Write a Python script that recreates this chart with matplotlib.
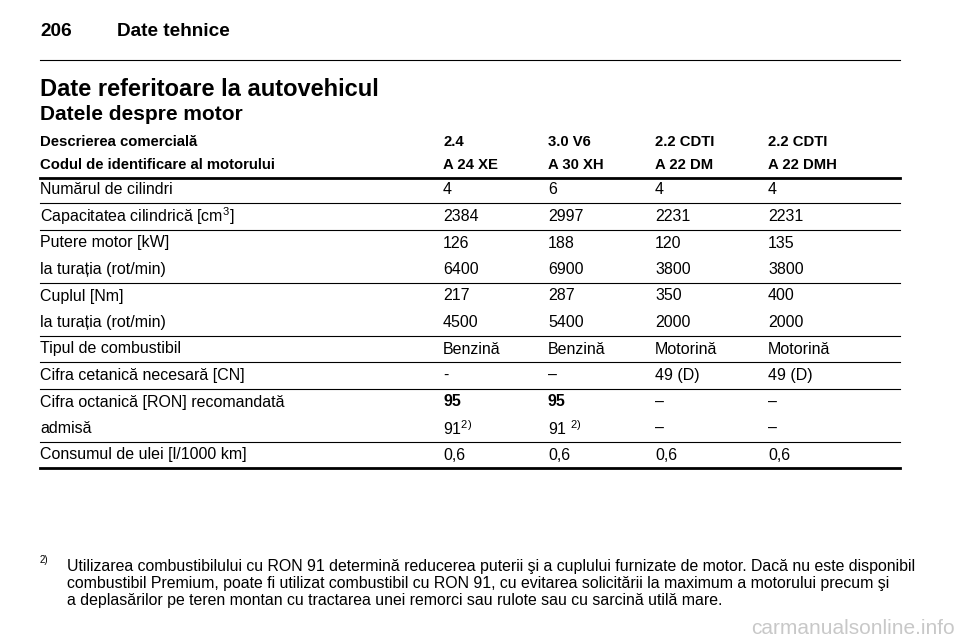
import matplotlib.pyplot as plt
from matplotlib.lines import Line2D

plt.rcParams['font.family'] = ['Liberation Sans', 'DejaVu Sans']
plt.rcParams['mathtext.fontset'] = 'custom'
plt.rcParams['mathtext.rm'] = 'Liberation Sans'
plt.rcParams['mathtext.it'] = 'Liberation Sans'

page_number = "206"
page_title = "Date tehnice"
heading = "Date referitoare la autovehicul"
subheading = "Datele despre motor"

header_rows = [
    ["Descrierea comercială", "2.4", "3.0 V6", "2.2 CDTI", "2.2 CDTI"],
    ["Codul de identificare al motorului", "A 24 XE", "A 30 XH", "A 22 DM", "A 22 DMH"],
]

# groups of rows, a rule is drawn after every group
row_groups = [
    [["Numărul de cilindri", "4", "6", "4", "4"]],
    [["Capacitatea cilindrică [cm$^3$]", "2384", "2997", "2231", "2231"]],
    [["Putere motor [kW]", "126", "188", "120", "135"],
     ["la turația (rot/min)", "6400", "6900", "3800", "3800"]],
    [["Cuplul [Nm]", "217", "287", "350", "400"],
     ["la turația (rot/min)", "4500", "5400", "2000", "2000"]],
    [["Tipul de combustibil", "Benzină", "Benzină", "Motorină", "Motorină"]],
    [["Cifra cetanică necesară [CN]", "-", "–", "49 (D)", "49 (D)"]],
    [["Cifra octanică [RON] recomandată", "95", "95", "–", "–"],
     ["admisă", "91$^{2)}$", "91 $^{2)}$", "–", "–"]],
    [["Consumul de ulei [l/1000 km]", "0,6", "0,6", "0,6", "0,6"]],
]
bold_cells = {("Cifra octanică [RON] recomandată", 1), ("Cifra octanică [RON] recomandată", 2)}

footnote = [
    "Utilizarea combustibilului cu RON 91 determină reducerea puterii şi a cuplului furnizate de motor. Dacă nu este disponibil",
    "combustibil Premium, poate fi utilizat combustibil cu RON 91, cu evitarea solicitării la maximum a motorului precum şi",
    "a deplasărilor pe teren montan cu tractarea unei remorci sau rulote sau cu sarcină utilă mare.",
]

col_x = [40, 443, 548, 655, 768]
left, right = 40, 900

fig = plt.figure(figsize=(9.6, 6.42), dpi=100)
ax = fig.add_axes([0, 0, 1, 1])
ax.set_xlim(0, 960)
ax.set_ylim(642, 0)
ax.axis('off')

ax.text(40, 32, page_number, fontsize=13.7, fontweight='bold', va='center')
ax.text(117, 32, page_title, fontsize=13.7, fontweight='bold', va='center')
ax.add_line(Line2D([left, right], [60, 60], color='black', lw=0.8))
ax.text(40, 90, heading, fontsize=17, fontweight='bold', va='center')
ax.text(40, 115, subheading, fontsize=15, fontweight='bold', va='center')

for i, row in enumerate(header_rows):
    y = 142 + i * 23
    for x, cell in zip(col_x, row):
        ax.text(x, y, cell, fontsize=10.7, fontweight='bold', va='center')
ax.add_line(Line2D([left, right], [178, 178], color='black', lw=2))

y = 190
row_h = 26.5
for gi, group in enumerate(row_groups):
    for row in group:
        for ci, (x, cell) in enumerate(zip(col_x, row)):
            w = 'bold' if (row[0], ci) in bold_cells else 'normal'
            ax.text(x, y, cell, fontsize=11.5, fontweight=w, va='center')
        y += row_h
    rule_y = y - 13.5
    lw = 2 if gi == len(row_groups) - 1 else 0.8
    ax.add_line(Line2D([left, right], [rule_y, rule_y], color='black', lw=lw))

ax.text(40, 560, "2)", fontsize=7, va='center')
for i, line in enumerate(footnote):
    ax.text(67, 566 + i * 17.5, line, fontsize=11.4, va='center')

ax.text(955, 628, "carmanualsonline.info", fontsize=15, color='#c8c8c8', ha='right', va='center')

fig.savefig("out.png", dpi=100)
